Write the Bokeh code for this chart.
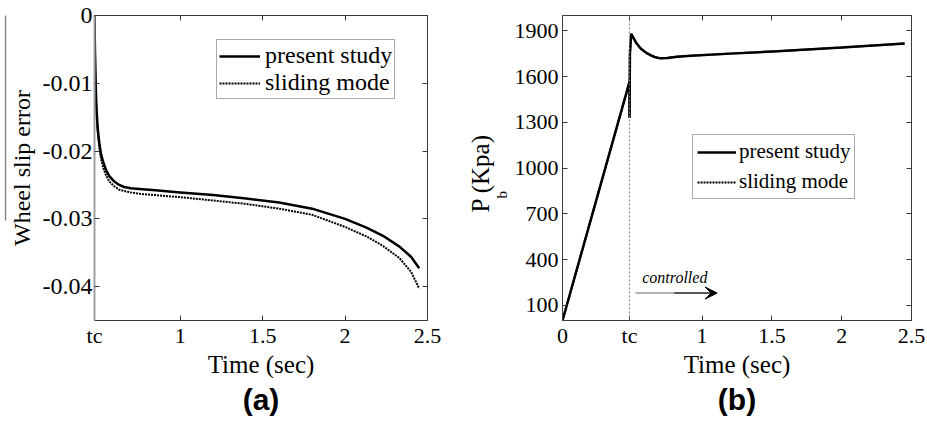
from bokeh.plotting import figure
from bokeh.models import (FixedTicker, LinearAxis, Range1d, Legend, LegendItem,
                          Span, Arrow, VeeHead, Label, Title)
from bokeh.layouts import row
from bokeh.embed import file_html
from bokeh.resources import INLINE

# ---------------- data ----------------
tc = 0.48  # instant the controller is switched on

# (a) wheel slip error after tc
slip_t = [0.48, 0.482, 0.485, 0.49, 0.495, 0.50, 0.51, 0.52, 0.535, 0.55, 0.57,
          0.60, 0.63, 0.66, 0.70, 0.75, 0.85, 1.0, 1.2, 1.4, 1.6, 1.8, 2.0,
          2.13, 2.23, 2.33, 2.40, 2.45]
slip_present = [0, -0.004, -0.008, -0.0125, -0.0150, -0.0168, -0.0190, -0.0205,
                -0.0218, -0.0228, -0.0237, -0.0245, -0.0250, -0.0253, -0.0255,
                -0.0256, -0.0258, -0.0261, -0.0265, -0.0270, -0.0276, -0.0285,
                -0.0300, -0.0313, -0.0325, -0.0341, -0.0356, -0.0373]
slip_sliding = [0, -0.004, -0.0085, -0.013, -0.0155, -0.0173, -0.0196, -0.0212,
                -0.0226, -0.0236, -0.0245, -0.0252, -0.0257, -0.0259, -0.0261,
                -0.0263, -0.0265, -0.0268, -0.0273, -0.0278, -0.0285, -0.0294,
                -0.0312, -0.0326, -0.0340, -0.0358, -0.0378, -0.0403]

# (b) brake pressure
pb_t = [0, 0.48, 0.48, 0.483, 0.492, 0.51, 0.53, 0.56, 0.60, 0.63, 0.66, 0.70,
        0.75, 0.82, 0.92, 1.2, 1.54, 2.0, 2.45]
pb_present = [0, 1565, 1330, 1750, 1880, 1850, 1818, 1784, 1755, 1740, 1728,
              1719, 1722, 1730, 1736, 1750, 1766, 1790, 1816]
pb_sliding = [0, 1565, 1330, 1750, 1880, 1850, 1818, 1784, 1755, 1740, 1728,
              1719, 1722, 1730, 1736, 1750, 1766, 1790, 1816]

# ticks
a_xticks = [tc, 1, 1.5, 2, 2.5]
a_xlabels = ["tc", "1", "1.5", "2", "2.5"]
a_yticks = [0, -0.01, -0.02, -0.03, -0.04]
a_ylabels = ["0", "-0.01", "-0.02", "-0.03", "-0.04"]
b_xticks = [0, tc, 1, 1.5, 2, 2.5]
b_xlabels = ["0", "tc", "1", "1.5", "2", "2.5"]
b_yticks = [100, 400, 700, 1000, 1300, 1600, 1900]
b_ylabels = [str(v) for v in b_yticks]

SERIF = "Liberation Serif"
AX = "#3a3a3a"


def style_axis(ax, size, standoff):
    ax.major_tick_in = 5
    ax.major_tick_out = 0
    ax.minor_tick_in = 0
    ax.minor_tick_out = 0
    ax.axis_line_color = AX
    ax.major_tick_line_color = AX
    ax.major_label_text_font = SERIF
    ax.major_label_text_font_size = size
    ax.major_label_text_color = "black"
    ax.major_label_standoff = standoff
    ax.axis_label_text_font = SERIF
    ax.axis_label_text_font_style = "normal"
    ax.axis_label_text_font_size = "25px"
    ax.axis_label_text_color = "black"


def mirror_axes(p, xticks, yticks):
    for side, ticks in (("above", xticks), ("right", yticks)):
        ax = LinearAxis(ticker=FixedTicker(ticks=ticks))
        style_axis(ax, "0px", 0)
        ax.major_label_text_alpha = 0
        p.add_layout(ax, side)


def base_figure(width, frame_left, frame_right, frame_top, x_range, y_range):
    p = figure(width=width, height=425, x_range=x_range, y_range=y_range,
               output_backend="svg", toolbar_location=None,
               min_border_left=frame_left, min_border_right=frame_right,
               min_border_top=frame_top, min_border_bottom=105)
    p.outline_line_color = None
    p.grid.visible = False
    p.background_fill_color = "white"
    p.border_fill_color = "white"
    return p


def legend_for(p, r1, r2, loc, size, row_h, spacing, pad, gw, gap):
    lg = Legend(items=[LegendItem(label="present study", renderers=[r1]),
                       LegendItem(label="sliding mode", renderers=[r2])],
                location=loc)
    lg.label_text_font = SERIF
    lg.label_text_font_size = size
    lg.label_text_color = "black"
    lg.glyph_width = gw
    lg.glyph_height = row_h
    lg.label_height = row_h
    lg.label_standoff = gap
    lg.padding = pad
    lg.spacing = spacing
    lg.margin = 0
    lg.border_line_color = "#555555"
    lg.border_line_width = 1
    lg.background_fill_color = "white"
    lg.background_fill_alpha = 1
    p.add_layout(lg, "center")


def panel_title(p, text):
    t = Title(text=text, align="center", text_font="Liberation Sans",
              text_font_style="bold", text_font_size="30px",
              text_color="black", standoff=0, offset=0)
    p.add_layout(t, "below")


# ---------------- (a) wheel slip error ----------------
pa = base_figure(458, 94, 31, 15, Range1d(tc, 2.5), Range1d(-0.045, 0))
pa.xaxis.ticker = FixedTicker(ticks=a_xticks)
pa.yaxis.ticker = FixedTicker(ticks=a_yticks)
pa.xaxis.major_label_overrides = dict(zip(a_xticks, a_xlabels))
pa.yaxis.major_label_overrides = dict(zip(a_yticks, a_ylabels))
style_axis(pa.xaxis[0], "22px", 2)
style_axis(pa.yaxis[0], "24px", 2)
pa.yaxis.axis_line_color = "#a0a0a0"
pa.yaxis.axis_line_width = 2
pa.xaxis.axis_label = "Time (sec)"
pa.xaxis.axis_label_standoff = 0
pa.yaxis.axis_label = "Wheel slip error"
pa.yaxis.axis_label_text_font_size = "24px"
pa.yaxis.axis_label_standoff = 5
mirror_axes(pa, a_xticks, a_yticks)

# thin grey bar running beside the y label (bare axis line, no ticks)
bar = LinearAxis(ticker=FixedTicker(ticks=[]), bounds=(-0.0302, 0.001))
style_axis(bar, "0px", 0)
bar.axis_line_color = "#8a8a8a"
bar.axis_line_width = 1.5
bar.major_tick_in = 0
pa.add_layout(bar, "left")

ra2 = pa.line(slip_t, slip_sliding, line_color="black", line_width=2,
              line_dash="2 1")
ra1 = pa.line(slip_t, slip_present, line_color="black", line_width=2.5)
legend_for(pa, ra1, ra2, (122, 221), "24px", 26, 0, 2, 41, 5)
panel_title(pa, "(a)")

# ---------------- (b) brake pressure ----------------
pbf = base_figure(469, 104, 16, 10, Range1d(0, 2.5), Range1d(0, 2000))
pbf.xaxis.ticker = FixedTicker(ticks=b_xticks)
pbf.yaxis.ticker = FixedTicker(ticks=b_yticks)
pbf.xaxis.major_label_overrides = dict(zip(b_xticks, b_xlabels))
pbf.yaxis.major_label_overrides = dict(zip(b_yticks, b_ylabels))
style_axis(pbf.xaxis[0], "22px", 2)
style_axis(pbf.yaxis[0], "22px", 4)
pbf.xaxis.axis_label = "Time (sec)"
pbf.xaxis.axis_label_standoff = 0
mirror_axes(pbf, b_xticks, b_yticks)

# y label P_b (Kpa): the subscript and the main text as two side titles
pbf.add_layout(Title(text="b", align="left", offset=122, standoff=0,
                     vertical_align="top", text_font=SERIF,
                     text_font_style="normal", text_font_size="15px",
                     text_color="black"), "left")
pbf.add_layout(Title(text="P  (Kpa)", align="left", offset=108, standoff=0,
                     vertical_align="bottom", text_font=SERIF,
                     text_font_style="normal", text_font_size="25px",
                     text_color="black"), "left")

pbf.add_layout(Span(location=tc, dimension="height", line_color="#7a7a7a",
                    line_dash="2 2", line_width=1))

rb2 = pbf.line(pb_t, pb_sliding, line_color="black", line_width=2,
               line_dash="2 1")
rb1 = pbf.line(pb_t, pb_present, line_color="black", line_width=2.5)
legend_for(pbf, rb1, rb2, (130, 121), "21px", 24, 5, 4, 39, 3)

# "controlled" marker after tc: grey tail, black head
pbf.add_layout(Label(x=0.571, y=283, text="controlled", text_font=SERIF,
                     text_font_style="italic", text_font_size="16px",
                     text_color="black", text_baseline="middle"))
pbf.add_layout(Arrow(x_start=0.523, y_start=180, x_end=0.80, y_end=180,
                     line_color="#9a9a9a", line_width=1.5, end=None))
pbf.add_layout(Arrow(x_start=0.80, y_start=180, x_end=1.108, y_end=180,
                     line_color="#202020", line_width=1.5,
                     end=VeeHead(size=12, fill_color="black",
                                 line_color="black")))
panel_title(pbf, "(b)")

layout = row(pa, pbf, spacing=0)
open("out.html", "w").write(file_html(layout, INLINE))
